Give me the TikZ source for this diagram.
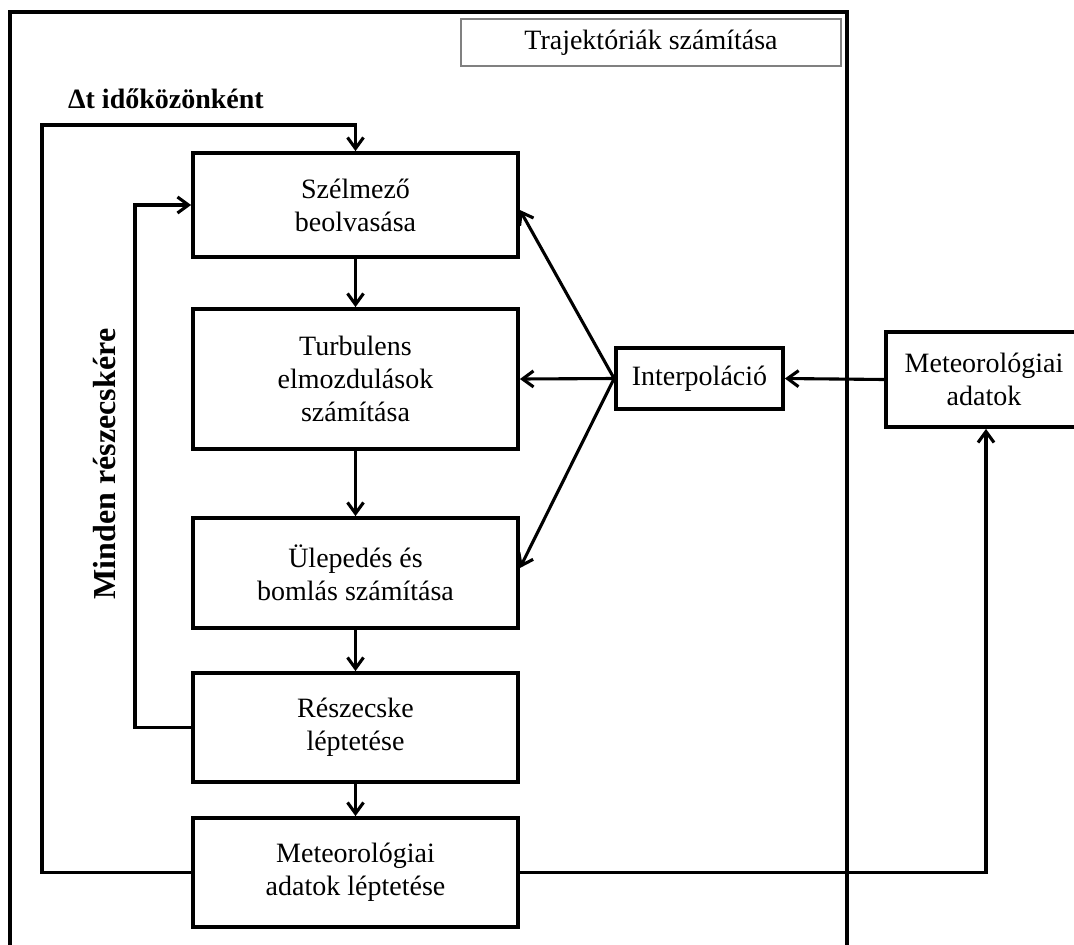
\documentclass[tikz,border=0pt]{standalone}
\usepackage{fontspec}
\setmainfont{Liberation Serif}
\usetikzlibrary{arrows.meta,calc}
\begin{document}
\begin{tikzpicture}[x=1pt,y=1pt,
  stepbox/.style={draw, line width=3.8pt, align=center, inner sep=0pt,
    font=\fontsize{28}{33}\selectfont},
  arr/.style={line width=3.1pt, -{Straight Barb[length=11pt,width=16pt]}},
  plain/.style={line width=3.1pt}]
\useasboundingbox (0,0) rectangle (1074,-945);
\fill[white] (0,0) rectangle (1074,-945);
% outer frame
\draw[plain] (10,-945) -- (10,-12) -- (847,-12) -- (847,-945);
% title
\node[draw=gray, line width=1.3pt, minimum width=380, minimum height=47, inner sep=0pt,
  font=\fontsize{28}{33}\selectfont] (title) at (651,-42.5) {Trajektóriák számítása};
% boxes
\node[stepbox, minimum width=325, minimum height=104] (b1) at (355.5,-205) {Szélmező\\beolvasása};
\node[stepbox, minimum width=325, minimum height=140] (b2) at (355.5,-379) {Turbulens\\elmozdulások\\számítása};
\node[stepbox, minimum width=325, minimum height=110] (b3) at (355.5,-573) {Ülepedés és\\bomlás számítása};
\node[stepbox, minimum width=325, minimum height=109] (b4) at (355.5,-727.5) {Részecske\\léptetése};
\node[stepbox, minimum width=325, minimum height=109] (b5) at (355.5,-872.5) {Meteorológiai\\adatok léptetése};
\node[stepbox, minimum width=167, minimum height=61] (interp) at (699.5,-378.5) {Interpoláció};
\node[stepbox, minimum width=196, minimum height=95] (meteo) at (984,-379.5) {Meteorológiai\\adatok};
% labels
\node[anchor=base east, inner sep=0pt, font=\fontsize{28}{33}\selectfont\bfseries] (dt) at (264,-108) {Δt időközönként};
\node[rotate=90, inner sep=0pt, font=\fontsize{32}{36}\selectfont\bfseries] (minden) at (105,-464) {Minden részecskére};
% vertical flow
\draw[arr] (b1.south) -- (b2.north);
\draw[arr] (b2.south) -- (b3.north);
\draw[arr] (b3.south) -- (b4.north);
\draw[arr] (b4.south) -- (b5.north);
% loops
\coordinate (tl) at (42,-125);
\draw[arr] (b5.west) -| (tl) -| (b1.north);
\coordinate (il) at (135,-205);
\draw[arr] (b4.west) -| (il) -- (b1.west);
% interpolation
\draw[arr] (interp.west) -- ($(b1.east)+(0,-5)$);
\draw[arr] (interp.west) -- (b2.east);
\draw[arr] (interp.west) -- ($(b3.east)+(0,5)$);
\draw[arr] (meteo.west) -- (interp.east);
% return to meteo data
\coordinate (rx) at (986,-872.5);
\draw[arr] (b5.east) -- (rx) -- (rx |- meteo.south);
\end{tikzpicture}
\end{document}
